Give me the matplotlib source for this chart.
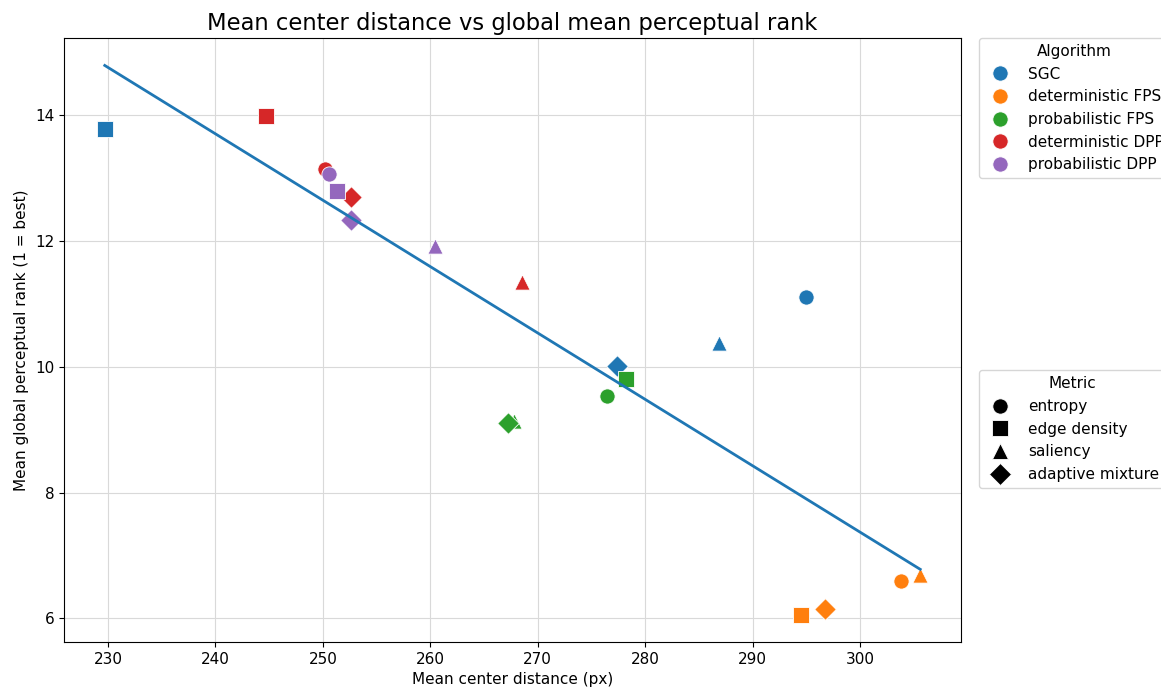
import numpy as np
import matplotlib
matplotlib.use("Agg")
import matplotlib.pyplot as plt
from matplotlib.lines import Line2D

algorithms = ["SGC", "deterministic FPS", "probabilistic FPS", "deterministic DPP", "probabilistic DPP"]
metrics = ["entropy", "edge density", "saliency", "adaptive mixture"]
colors = ["#1f77b4", "#ff7f0e", "#2ca02c", "#d62728", "#9467bd"]
markers = ["o", "s", "^", "D"]

# mean center distance, rows = algorithm, columns = metric
center_dist = {
    "SGC":               [295.0, 229.7, 286.9, 277.4],
    "deterministic FPS": [303.8, 294.5, 305.6, 296.7],
    "probabilistic FPS": [276.4, 278.2, 267.8, 267.2],
    "deterministic DPP": [250.2, 244.7, 268.5, 252.6],
    "probabilistic DPP": [250.6, 251.3, 260.4, 252.6],
}
perc_rank = {
    "SGC":               [11.11, 13.78, 10.38, 10.02],
    "deterministic FPS": [6.60, 6.06, 6.69, 6.15],
    "probabilistic FPS": [9.54, 9.81, 9.14, 9.10],
    "deterministic DPP": [13.15, 13.99, 11.35, 12.70],
    "probabilistic DPP": [13.06, 12.80, 11.92, 12.33],
}

fig = plt.figure(figsize=(11.61, 6.88), dpi=100)
ax = fig.add_axes([64/1161, 1-642/688, (961-64)/1161, (642-38)/688])

allx, ally = [], []
for a, c in zip(algorithms, colors):
    for m, mk, x, y in zip(metrics, markers, center_dist[a], perc_rank[a]):
        ax.scatter(x, y, s=120, marker=mk, color=c,
                   edgecolors="white", linewidths=0.6, zorder=2)
        allx.append(x); ally.append(y)

allx = np.array(allx); ally = np.array(ally)
k, b = np.polyfit(allx, ally, 1)
xs = np.array([allx.min(), allx.max()])
ax.plot(xs, k*xs + b, color="#1f77b4", lw=2, zorder=3)

ax.grid(True, color="#d9d9d9", lw=0.8)
ax.set_axisbelow(True)
ax.set_title("Mean center distance vs global mean perceptual rank", fontsize=16.3)
ax.set_xlabel("Mean center distance (px)", fontsize=11)
ax.set_ylabel("Mean global perceptual rank (1 = best)", fontsize=11)
ax.tick_params(labelsize=11)

h1 = [Line2D([], [], marker="o", ls="", color=c, markersize=11, markeredgecolor="white",
             markeredgewidth=0.6) for c in colors]
leg1 = ax.legend(h1, algorithms, title="Algorithm", loc="upper left",
                 bbox_to_anchor=(1.02, 1.0), borderaxespad=0, fontsize=11, title_fontsize=11)
ax.add_artist(leg1)
h2 = [Line2D([], [], marker=mk, ls="", color="black", markersize=11,
             markeredgecolor="white", markeredgewidth=0.6) for mk in markers]
ax.legend(h2, metrics, title="Metric", loc="upper left",
          bbox_to_anchor=(1.02, 0.45), borderaxespad=0, fontsize=11, title_fontsize=11)

fig.savefig("out.png", dpi=100)
